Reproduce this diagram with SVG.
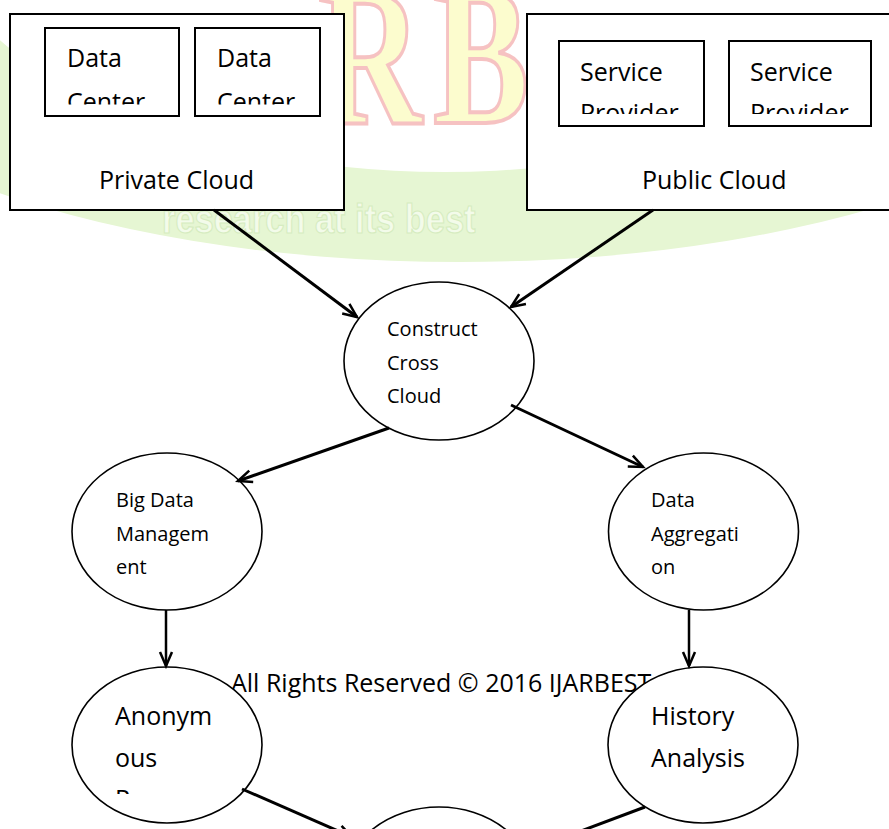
<svg xmlns="http://www.w3.org/2000/svg" width="889" height="829" viewBox="0 0 889 829">
<style>
.t{font-family:"Open Sans","Liberation Sans",sans-serif;fill:#000}
.big{font-size:25px}
.sm{font-size:20px}
.box{fill:#fff;stroke:#000;stroke-width:2}
.node{fill:#fff;stroke:#000;stroke-width:1.6}
.conn{stroke:#000;stroke-width:3;fill:none}
.vconn{stroke:#000;stroke-width:2.5;fill:none}
.wmL{font-family:"Liberation Serif",serif;font-weight:bold;font-size:200px;fill:#fcfcce;stroke:#f6c2c2;stroke-width:4}
.wmT{font-family:"Liberation Sans",sans-serif;font-weight:bold;font-size:40px;fill:#f3fbea;stroke:#d6ecc0;stroke-width:1.2}
</style>
<defs>
<marker id="arrow" markerUnits="userSpaceOnUse" markerWidth="20" markerHeight="16" refX="0" refY="0" viewBox="-16 -8 18 16" orient="auto">
<path d="M-14,-6 L0,0 L-14,6" fill="none" stroke="#000" stroke-width="2.5"/>
</marker>
<clipPath id="cDC1"><rect x="45" y="28" width="134" height="76.5"/></clipPath>
<clipPath id="cDC2"><rect x="195" y="28" width="125" height="76.5"/></clipPath>
<clipPath id="cSP1"><rect x="559" y="41" width="145" height="73"/></clipPath>
<clipPath id="cSP2"><rect x="729" y="41" width="142" height="73"/></clipPath>
<clipPath id="cAN"><rect x="72" y="660" width="190" height="134"/></clipPath>
</defs>
<rect x="0" y="0" width="889" height="829" fill="#fff"/>
<g id="watermark">
<path fill="#e6f6d3" fill-rule="evenodd" d="M-240,-17 A700,279 0 1,0 1160,-17 A700,279 0 1,0 -240,-17 Z M-75,-101 A520,273 0 1,0 965,-101 A520,273 0 1,0 -75,-101 Z"/>
<g transform="scale(0.72,1)">
<text class="wmL" x="441.7" y="123">R</text>
<text class="wmL" x="601.4" y="123">B</text>
</g>
<g transform="translate(162,233) scale(0.86,1)">
<text class="wmT" x="0" y="0">research at its best</text>
</g>
</g>
<text class="t big" x="231" y="692">All Rights Reserved © 2016 IJARBEST</text>
<g id="private-cloud">
<rect class="box" x="10" y="14" width="334" height="196"/>
<text class="t big" x="99" y="189">Private Cloud</text>
<g id="data-center-1">
<rect class="box" x="45" y="28" width="134" height="88"/>
<g clip-path="url(#cDC1)"><text class="t big" x="67" y="67">Data</text><text class="t big" x="67" y="111">Center</text></g>
</g>
<g id="data-center-2">
<rect class="box" x="195" y="28" width="125" height="88"/>
<g clip-path="url(#cDC2)"><text class="t big" x="217" y="67">Data</text><text class="t big" x="217" y="111">Center</text></g>
</g>
</g>
<g id="public-cloud">
<rect class="box" x="527" y="14" width="380" height="196"/>
<text class="t big" x="642" y="189">Public Cloud</text>
<g id="service-provider-1">
<rect class="box" x="559" y="41" width="145" height="85"/>
<g clip-path="url(#cSP1)"><text class="t big" x="580" y="81">Service</text><text class="t big" x="580" y="122">Provider</text></g>
</g>
<g id="service-provider-2">
<rect class="box" x="729" y="41" width="142" height="85"/>
<g clip-path="url(#cSP2)"><text class="t big" x="750" y="81">Service</text><text class="t big" x="750" y="122">Provider</text></g>
</g>
</g>
<g id="construct-cross-cloud">
<ellipse class="node" cx="439" cy="361" rx="95" ry="79"/>
<text class="t sm" x="387" y="336">Construct</text>
<text class="t sm" x="387" y="369.5">Cross</text>
<text class="t sm" x="387" y="403">Cloud</text>
</g>
<g id="big-data-management">
<ellipse class="node" cx="167" cy="531.5" rx="95" ry="78.5"/>
<text class="t sm" x="116" y="507">Big Data</text>
<text class="t sm" x="116" y="540.5">Managem</text>
<text class="t sm" x="116" y="574">ent</text>
</g>
<g id="data-aggregation">
<ellipse class="node" cx="703.5" cy="531.5" rx="95" ry="78.5"/>
<text class="t sm" x="651" y="507">Data</text>
<text class="t sm" x="651" y="540.5">Aggregati</text>
<text class="t sm" x="651" y="574">on</text>
</g>
<g id="anonymous">
<ellipse class="node" cx="167" cy="745" rx="95" ry="78"/>
<g clip-path="url(#cAN)">
<text class="t big" x="115" y="725">Anonym</text>
<text class="t big" x="115" y="766.5">ous</text>
<text class="t big" x="115" y="808">P</text>
</g>
</g>
<g id="history-analysis">
<ellipse class="node" cx="703" cy="745" rx="95" ry="78"/>
<text class="t big" x="651" y="725">History</text>
<text class="t big" x="651" y="766.5">Analysis</text>
</g>
<g id="bottom-node">
<ellipse class="node" cx="439" cy="885" rx="95" ry="78"/>
</g>
<g id="connectors">
<line class="conn" x1="214" y1="210" x2="357" y2="317" marker-end="url(#arrow)"/>
<line class="conn" x1="653" y1="210" x2="511" y2="307" marker-end="url(#arrow)"/>
<line class="conn" x1="389" y1="428" x2="238" y2="481" marker-end="url(#arrow)"/>
<line class="conn" x1="511" y1="405" x2="643" y2="467" marker-end="url(#arrow)"/>
<line class="vconn" x1="166" y1="610" x2="166" y2="666" marker-end="url(#arrow)"/>
<line class="vconn" x1="689" y1="610" x2="689" y2="666" marker-end="url(#arrow)"/>
<line class="conn" x1="242" y1="789" x2="352" y2="837" marker-end="url(#arrow)"/>
<line class="conn" x1="645" y1="807" x2="525" y2="852" marker-end="url(#arrow)"/>
</g>
</svg>
